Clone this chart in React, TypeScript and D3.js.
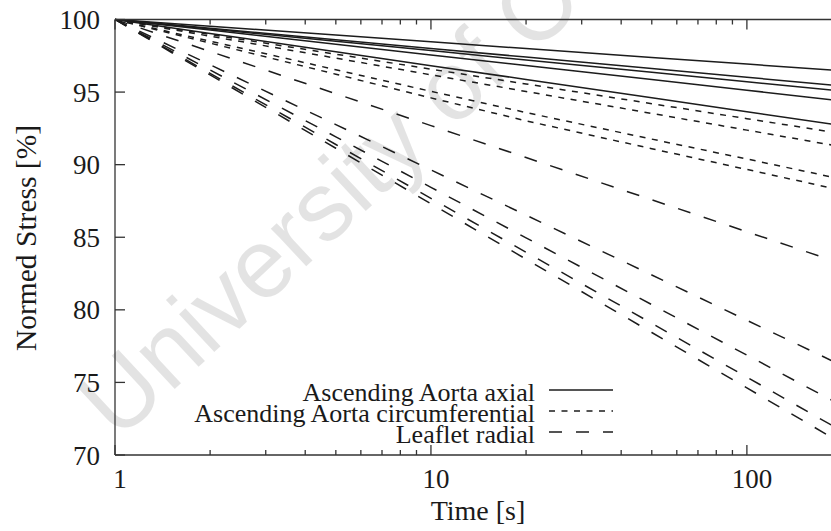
import React from "react";
import * as d3 from "d3";

// Sample times (s) at which each relaxation curve is tabulated
const times = [1, 2, 5, 10, 20, 50, 100, 200];

// Ascending Aorta axial (solid)
const axial1 = [100, 99.54, 98.93, 98.47, 98.0, 97.39, 96.93, 96.47];
const axial2 = [100, 99.4, 98.61, 98.01, 97.41, 96.62, 96.02, 95.42];
const axial3 = [100, 99.35, 98.5, 97.86, 97.21, 96.36, 95.71, 95.07];
const axial4 = [100, 99.27, 98.3, 97.56, 96.83, 95.86, 95.13, 94.39];
const axial5 = [100, 99.04, 97.78, 96.82, 95.87, 94.61, 93.65, 92.69];

// Ascending Aorta circumferential (short dashes)
const circ1 = [100, 98.97, 97.61, 96.58, 95.56, 94.2, 93.17, 92.14];
const circ2 = [100, 98.85, 97.34, 96.19, 95.04, 93.53, 92.38, 91.23];
const circ3 = [100, 98.51, 96.54, 95.05, 93.59, 91.76, 90.39, 89.0];
const circ4 = [100, 98.37, 96.23, 94.6, 93.02, 91.1, 89.67, 88.23];

// Leaflet radial (long dashes)
const radial1 = [100, 97.8, 94.89, 92.69, 90.49, 87.58, 85.38, 83.18];
const radial2 = [100, 96.88, 92.76, 89.64, 86.52, 82.4, 79.28, 76.16];
const radial3 = [100, 96.52, 91.92, 88.44, 84.96, 80.36, 76.88, 73.4];
const radial4 = [100, 96.29, 91.39, 87.68, 83.97, 79.07, 75.36, 71.65];
const radial5 = [100, 96.18, 91.13, 87.31, 83.49, 78.44, 74.62, 70.8];

const yTicks = [70, 75, 80, 85, 90, 95, 100];
const xMajor = [1, 10, 100];
const xMinor = [2, 3, 4, 5, 6, 7, 8, 9, 20, 30, 40, 50, 60, 70, 80, 90, 200];

const legendLabels = [
  "Ascending Aorta axial",
  "Ascending Aorta circumferential",
  "Leaflet radial",
];
const watermark = "University of Cape Town";

const W = 831;
const H = 531;
const left = 115;
const right = 842;
const top = 19.5;
const bottom = 455;

const DASHES = ["none", "6 6.5", "13 14"];
const INK = "#1c1c1c";
const FONT = "'Liberation Serif', 'Times New Roman', serif";

export default function App() {
  const x = d3.scaleLog().domain([1, 200]).range([left, right]);
  const y = d3.scaleLinear().domain([70, 100]).range([bottom, top]);

  const line = d3
    .line<number>()
    .x((_, i) => x(times[i]))
    .y((v) => y(v));

  const groups: { data: number[][]; dash: string }[] = [
    { data: [axial1, axial2, axial3, axial4, axial5], dash: DASHES[0] },
    { data: [circ1, circ2, circ3, circ4], dash: DASHES[1] },
    { data: [radial1, radial2, radial3, radial4, radial5], dash: DASHES[2] },
  ];

  const legendRight = 535;
  const legendBaselines = [401, 422, 443];

  return (
    <svg
      width={W}
      height={H}
      style={{ position: "absolute", left: 0, top: 0, background: "#fff" }}
    >
      <defs>
        <clipPath id="plot">
          <rect x={left} y={top - 1} width={right - left} height={bottom - top + 2} />
        </clipPath>
      </defs>

      {/* faint diagonal watermark */}
      <text
        transform="translate(118,442) rotate(-43)"
        fontFamily="'Liberation Sans', Arial, sans-serif"
        fontSize={98}
        fill="#000"
        fillOpacity={0.11}
      >
        {watermark}
      </text>

      {/* curves */}
      <g clipPath="url(#plot)" fill="none" stroke={INK} strokeWidth={1.5}>
        {groups.map((g, gi) =>
          g.data.map((d, i) => (
            <path
              key={`${gi}-${i}`}
              d={line(d) || ""}
              strokeDasharray={g.dash}
            />
          ))
        )}
      </g>

      {/* frame */}
      <g stroke="#333" strokeWidth={1.3} fill="none">
        <line x1={left} y1={top} x2={W} y2={top} />
        <line x1={left} y1={bottom} x2={W} y2={bottom} />
        <line x1={left} y1={top} x2={left} y2={bottom} />
        {yTicks.map((t) => (
          <line key={`yt${t}`} x1={left} x2={left + 10} y1={y(t)} y2={y(t)} />
        ))}
        {xMajor.map((t) => (
          <g key={`xM${t}`}>
            <line x1={x(t)} x2={x(t)} y1={bottom} y2={bottom - 10} />
            <line x1={x(t)} x2={x(t)} y1={top} y2={top + 10} />
          </g>
        ))}
        {xMinor.map((t) => (
          <g key={`xm${t}`}>
            <line x1={x(t)} x2={x(t)} y1={bottom} y2={bottom - 5} />
            <line x1={x(t)} x2={x(t)} y1={top} y2={top + 5} />
          </g>
        ))}
      </g>

      {/* tick labels and axis titles */}
      <g fontFamily={FONT} fontSize={27} fill="#1a1a1a">
        {yTicks.map((t) => (
          <text key={`yl${t}`} x={100} y={y(t) + 9.5} textAnchor="end">
            {t}
          </text>
        ))}
        {xMajor.map((t) => (
          <text key={`xl${t}`} x={x(t) + 5} y={488} textAnchor="middle">
            {t}
          </text>
        ))}
        <text x={478} y={520} textAnchor="middle" fontSize={28}>
          Time [s]
        </text>
        <text
          transform="translate(36,238) rotate(-90)"
          textAnchor="middle"
          fontSize={29.5}
        >
          Normed Stress [%]
        </text>
      </g>

      {/* legend */}
      <g fontFamily={FONT} fontSize={26} fill="#1a1a1a">
        {legendLabels.map((lab, i) => (
          <g key={lab}>
            <text x={legendRight} y={legendBaselines[i]} textAnchor="end">
              {lab}
            </text>
            <line
              x1={549}
              x2={613}
              y1={legendBaselines[i] - 11}
              y2={legendBaselines[i] - 11}
              stroke={INK}
              strokeWidth={1.4}
              strokeDasharray={DASHES[i]}
            />
          </g>
        ))}
      </g>
    </svg>
  );
}
